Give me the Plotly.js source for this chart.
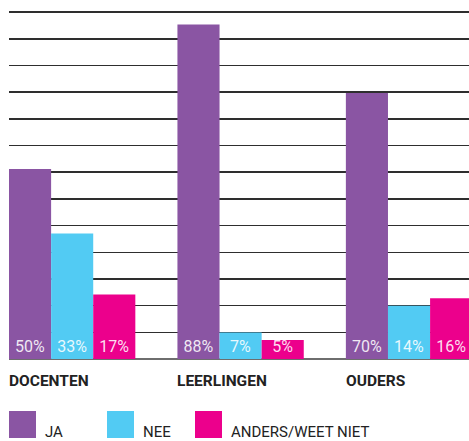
<!DOCTYPE html>
<html>
<head>
<meta charset="utf-8">
<script src="https://cdn.plot.ly/plotly-3.0.1.min.js"></script>
<style>html,body{margin:0;padding:0;background:#fff;}#chart{width:469px;height:441px;}</style>
</head>
<body>
<div id="chart"></div>
<script>
// ---- data ----
const categories = ['DOCENTEN', 'LEERLINGEN', 'OUDERS'];
const seriesNames = ['JA', 'NEE', 'ANDERS/WEET NIET'];
const jaValues = [50, 88, 70];
const neeValues = [33, 7, 14];
const andersValues = [17, 5, 16];

// ---- styling ----
const colors = ['#8A55A3', '#52CBF3', '#EC008C'];
const FONT = 'Roboto, "Liberation Sans", sans-serif';
const W = 469, H = 441;
const M = {l: 9, r: 0, t: 5, b: 82};
const plotW = W - M.l - M.r, plotH = H - M.t - M.b;
const pxX = px => (px - M.l) / plotW;
const pxY = py => (H - M.b - py) / plotH;

const xIdx = categories.map((c, i) => i);
const allValues = [jaValues, neeValues, andersValues];

const traces = allValues.map((vals, k) => ({
  type: 'bar',
  name: seriesNames[k],
  x: xIdx,
  y: vals,
  marker: {color: colors[k], line: {width: 0}},
  texttemplate: '%{y}%',
  textposition: 'inside',
  insidetextanchor: 'start',
  constraintext: 'none',
  textfont: {family: FONT, size: 16, color: 'rgba(255,255,255,0.88)'},
  hoverinfo: 'skip',
  showlegend: false
}));

const annotations = categories.map((c, i) => ({
  xref: 'x', yref: 'paper',
  x: i - 0.375, y: pxY(381),
  xanchor: 'left', yanchor: 'middle',
  xshift: -2,
  text: c, showarrow: false,
  font: {family: FONT, size: 15.5, color: '#222', weight: 'bold'}
}));

const legendX = [9, 107, 195];
const shapes = [];
seriesNames.forEach((n, k) => {
  shapes.push({
    type: 'rect', xref: 'paper', yref: 'paper',
    x0: pxX(legendX[k]), x1: pxX(legendX[k] + 27),
    y0: pxY(438), y1: pxY(411),
    fillcolor: colors[k], line: {width: 0}
  });
  annotations.push({
    xref: 'paper', yref: 'paper',
    x: pxX(legendX[k] + 34), y: pxY(441),
    xanchor: 'left', yanchor: 'bottom',
    yshift: -2,
    text: n, showarrow: false,
    font: {family: FONT, size: 15, color: '#222'}
  });
});

const layout = {
  width: W, height: H,
  margin: M,
  paper_bgcolor: '#fff', plot_bgcolor: '#fff',
  barmode: 'group', bargap: 0.25, bargroupgap: 0,
  showlegend: false,
  xaxis: {
    range: [-0.375, 2.356],
    showticklabels: false, showgrid: false, zeroline: false, ticks: '', fixedrange: true
  },
  yaxis: {
    range: [0, plotH / 3.8],
    tick0: 0, dtick: 7.02,
    showgrid: true, gridcolor: '#2e2e2e', gridwidth: 1.6,
    zeroline: true, zerolinecolor: '#6e6e6e', zerolinewidth: 2,
    showticklabels: false, ticks: '', fixedrange: true
  },
  annotations: annotations,
  shapes: shapes
};

Plotly.newPlot('chart', traces, layout, {displayModeBar: false, staticPlot: true});
</script>
</body>
</html>
